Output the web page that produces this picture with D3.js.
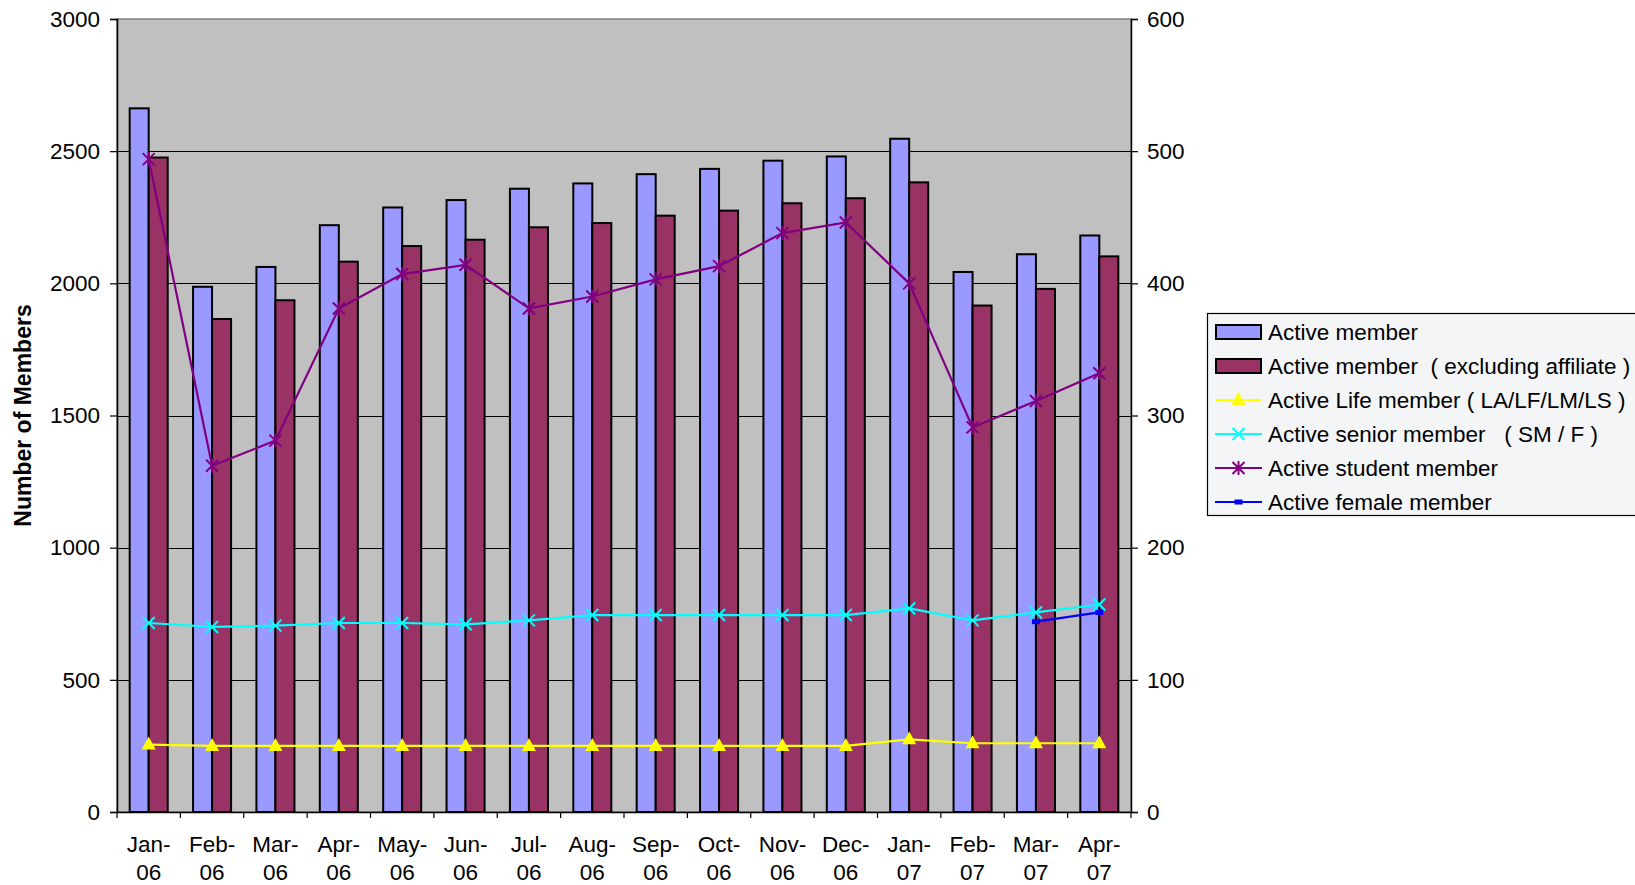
<!DOCTYPE html>
<html>
<head>
<meta charset="utf-8">
<style>
  body { margin: 0; background: #fff; overflow: hidden; }
  svg { font-family: "Liberation Sans", Arial, sans-serif; }
  .tick text { font-size: 22.5px; fill: #000; }
  .domain, .tick line { stroke: #000; }
</style>
</head>
<body>
<script src="https://cdnjs.cloudflare.com/ajax/libs/d3/7.8.5/d3.min.js"></script>
<script>
// data
var months = ["Jan-06","Feb-06","Mar-06","Apr-06","May-06","Jun-06","Jul-06","Aug-06",
              "Sep-06","Oct-06","Nov-06","Dec-06","Jan-07","Feb-07","Mar-07","Apr-07"];
var activeMember = [2662,1987,2062,2220,2287,2315,2358,2378,2413,2433,2464,2480,2547,2043,2110,2181];
var activeExclAffiliate = [2476,1865,1936,2082,2141,2165,2212,2228,2256,2275,2303,2322,2382,1916,1979,2102];
var lifeMember = [51,50,50,50,50,50,50,50,50,50,50,50,55,52,52,52];
var seniorMember = [143,140,141,143,143,142,145,149,149,149,149,149,154,145,151,157];
var studentMember = [494,262,281,381,407,414,381,390,403,413,438,446,400,291,311,332];
var femaleMember = [null,null,null,null,null,null,null,null,null,null,null,null,null,null,144,151];
var leftTicks = [0,500,1000,1500,2000,2500,3000];
var rightTicks = [0,100,200,300,400,500,600];

var W = 1635, H = 885;
var m = { left: 117, right: 1131, top: 19, bottom: 812 };

var svg = d3.select("body").append("svg")
    .attr("width", W)
    .attr("height", H);

var x = d3.scaleBand().domain(months).range([m.left, m.right]).padding(0);
var yL = d3.scaleLinear().domain([0, 3000]).range([m.bottom, m.top]);
var yR = d3.scaleLinear().domain([0, 600]).range([m.bottom, m.top]);
var bw = x.bandwidth() * 0.3;

// plot area
svg.append("rect")
    .attr("x", m.left).attr("y", m.top)
    .attr("width", m.right - m.left).attr("height", m.bottom - m.top)
    .attr("fill", "#c0c0c0")
    .attr("stroke", "#808080")
    .attr("stroke-width", 1.5);

// gridlines
svg.selectAll(".grid")
    .data(leftTicks.slice(1, -1))
  .enter().append("line")
    .attr("x1", m.left).attr("x2", m.right)
    .attr("y1", function(d) { return Math.round(yL(d)) + 0.5; })
    .attr("y2", function(d) { return Math.round(yL(d)) + 0.5; })
    .attr("stroke", "#000").attr("stroke-width", 1.2);

// bars
function bars(data, fill, offset) {
  svg.append("g").selectAll("rect")
      .data(data)
    .enter().append("rect")
      .attr("x", function(d, i) { return x(months[i]) + x.bandwidth() / 2 + offset * bw; })
      .attr("y", function(d) { return yL(d); })
      .attr("width", bw)
      .attr("height", function(d) { return yL(0) - yL(d); })
      .attr("fill", fill)
      .attr("stroke", "#000")
      .attr("stroke-width", 2);
}
bars(activeMember, "#9999ff", -1);
bars(activeExclAffiliate, "#993366", 0);

// lines
function cx(i) { return x(months[i]) + x.bandwidth() / 2; }
function series(data, color) {
  var line = d3.line()
      .defined(function(d) { return d != null; })
      .x(function(d, i) { return cx(i); })
      .y(function(d) { return yR(d); });
  svg.append("path")
      .datum(data)
      .attr("d", line)
      .attr("fill", "none")
      .attr("stroke", color)
      .attr("stroke-width", 2.2);
  var g = svg.append("g");
  data.forEach(function(d, i) {
    if (d == null) return;
    marker(g, color, cx(i), yR(d));
  });
}

function marker(g, color, px, py) {
  if (color == "#ffff00") {
    g.append("path")
        .attr("d", "M" + px + "," + (py - 8) + "L" + (px + 7) + "," + (py + 5) + "L" + (px - 7) + "," + (py + 5) + "Z")
        .attr("fill", color);
  } else if (color == "#00ffff" || color == "#800080") {
    var s = 6;
    var d = "M" + (px - s) + "," + (py - s) + "L" + (px + s) + "," + (py + s) +
            "M" + (px - s) + "," + (py + s) + "L" + (px + s) + "," + (py - s);
    if (color == "#800080") d += "M" + px + "," + (py - s - 1) + "L" + px + "," + (py + s + 1);
    g.append("path").attr("d", d).attr("stroke", color).attr("stroke-width", 2).attr("fill", "none");
  } else {
    g.append("rect")
        .attr("x", px - 4).attr("y", py - 2.5)
        .attr("width", 8).attr("height", 5)
        .attr("fill", color);
  }
}

series(lifeMember, "#ffff00");
series(seniorMember, "#00ffff");
series(studentMember, "#800080");
series(femaleMember, "#0000ff");

// axes
var leftAxis = svg.append("g")
    .attr("transform", "translate(" + m.left + ",0)")
    .call(d3.axisLeft(yL).tickValues(leftTicks).tickFormat(d3.format("d")).tickSize(7).tickPadding(10));
var rightAxis = svg.append("g")
    .attr("transform", "translate(" + m.right + ",0)")
    .call(d3.axisRight(yR).tickValues(rightTicks).tickFormat(d3.format("d")).tickSize(7).tickPadding(9));

var xAxis = svg.append("g")
    .attr("transform", "translate(0," + m.bottom + ")")
    .call(d3.axisBottom(x).tickSize(0).tickFormat(""));
xAxis.selectAll(".domain").attr("stroke-width", 1.5);
[leftAxis, rightAxis].forEach(function(a) {
  a.select(".domain").attr("stroke-width", 1.5);
  a.selectAll(".tick line").attr("stroke-width", 1.2);
});

// category boundary ticks
svg.append("g").selectAll("line")
    .data(months.concat(["end"]))
  .enter().append("line")
    .attr("x1", function(d, i) { return m.left + i * x.step(); })
    .attr("x2", function(d, i) { return m.left + i * x.step(); })
    .attr("y1", m.bottom).attr("y2", m.bottom + 6)
    .attr("stroke", "#000").attr("stroke-width", 1.2);

// category labels, two lines
var lab = svg.append("g").selectAll("text")
    .data(months)
  .enter().append("text")
    .attr("text-anchor", "middle")
    .attr("font-size", 22.5)
    .attr("x", function(d) { return x(d) + x.bandwidth() / 2; });
lab.append("tspan")
    .attr("x", function(d) { return x(d) + x.bandwidth() / 2; })
    .attr("y", 852)
    .text(function(d) { return d.split("-")[0] + "-"; });
lab.append("tspan")
    .attr("x", function(d) { return x(d) + x.bandwidth() / 2; })
    .attr("y", 879.5)
    .text(function(d) { return d.split("-")[1]; });

// y title
svg.append("text")
    .attr("transform", "translate(31," + ((m.top + m.bottom) / 2) + ") rotate(-90)")
    .attr("text-anchor", "middle")
    .attr("font-size", 23)
    .attr("font-weight", "bold")
    .text("Number of Members");

// legend
var legendNames = ["Active member",
                   "Active member  ( excluding affiliate )",
                   "Active Life member ( LA/LF/LM/LS )",
                   "Active senior member   ( SM / F )",
                   "Active student member",
                   "Active female member"];
var legendColors = ["#9999ff", "#993366", "#ffff00", "#00ffff", "#800080", "#0000ff"];

var lg = svg.append("g");
lg.append("rect")
    .attr("x", 1207.5).attr("y", 313.5)
    .attr("width", 460).attr("height", 202)
    .attr("fill", "#f3f5f7")
    .attr("stroke", "#000").attr("stroke-width", 1.2);

legendNames.forEach(function(name, i) {
  var cy = 332 + i * 34;
  if (i < 2) {
    lg.append("rect")
        .attr("x", 1216).attr("y", cy - 7)
        .attr("width", 45).attr("height", 14)
        .attr("fill", legendColors[i])
        .attr("stroke", "#000").attr("stroke-width", 2);
  } else {
    lg.append("line")
        .attr("x1", 1215).attr("x2", 1262)
        .attr("y1", cy).attr("y2", cy)
        .attr("stroke", legendColors[i]).attr("stroke-width", 2.2);
    marker(lg, legendColors[i], 1238.5, cy);
  }
  lg.append("text")
      .attr("x", 1268).attr("y", cy + 8)
      .attr("font-size", 22.5)
      .style("white-space", "pre")
      .text(name);
});
</script>
</body>
</html>
